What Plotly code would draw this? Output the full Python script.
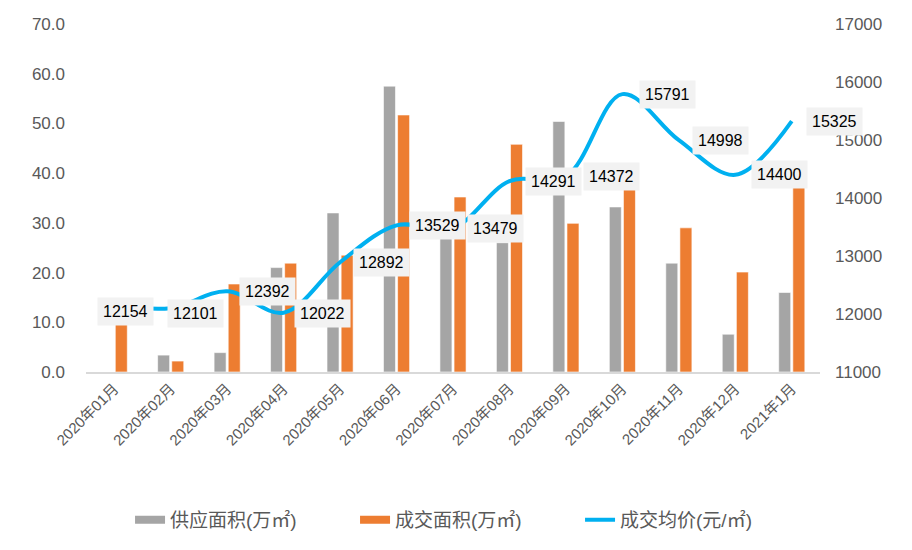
import plotly.graph_objects as go

months = ["2020年01月", "2020年02月", "2020年03月", "2020年04月", "2020年05月", "2020年06月",
          "2020年07月", "2020年08月", "2020年09月", "2020年10月", "2020年11月", "2020年12月", "2021年1月"]
supply_area = [0, 3.4, 3.9, 21.0, 32.0, 57.5, 27.0, 26.0, 50.4, 33.2, 21.9, 7.6, 16.0]
deal_area = [9.8, 2.2, 17.7, 21.9, 23.5, 51.7, 35.2, 45.8, 29.9, 36.8, 29.0, 20.1, 40.8]
avg_price = [12154, 12101, 12392, 12022, 12892, 13529, 13479, 14291, 14372, 15791, 14998, 14400, 15325]
series_names = ["供应面积(万㎡)", "成交面积(万㎡)", "成交均价(元/㎡)"]

label_xshift = [11, 25, 40, 39, 41, 41, 42, 44, 46, 45, 42, 44, 43]
label_yshift = [-6, -5, 0, -1, 0, 0, 0, 0, 0, 0, 0, 0, 0]

font_family = "Arial, 'Liberation Sans', 'Noto Sans CJK SC', sans-serif"
axis_color = "#595959"
gray, orange, blue = "#A5A5A5", "#ED7D31", "#00B0F0"

fig = go.Figure()
fig.add_trace(go.Bar(x=months, y=supply_area, name=series_names[0], showlegend=False,
                     marker=dict(color=gray, line=dict(color="#FFFFFF", width=0.6))))
fig.add_trace(go.Bar(x=months, y=deal_area, name=series_names[1], showlegend=False,
                     marker=dict(color=orange, line=dict(color="#FFFFFF", width=0.6))))
fig.add_trace(go.Scatter(x=months, y=avg_price, name=series_names[2], yaxis="y2", mode="lines",
                         showlegend=False,
                         line=dict(color=blue, width=4, shape="spline", smoothing=1.0)))

# legend entries (wide rectangle symbols like the original)
for name, color, w in [(series_names[0], gray, 8), (series_names[1], orange, 8), (series_names[2], blue, 4)]:
    fig.add_trace(go.Scatter(x=[None], y=[None], mode="lines", name=name,
                             line=dict(color=color, width=w), hoverinfo="skip"))

for i, (m, v) in enumerate(zip(months, avg_price)):
    fig.add_annotation(x=m, y=v, yref="y2", text=str(v), showarrow=False,
                       xshift=label_xshift[i], yshift=label_yshift[i],
                       bgcolor="#F2F2F2", borderpad=5,
                       font=dict(size=16, color="#000000", family=font_family))

fig.update_layout(
    width=904, height=542,
    margin=dict(l=78, r=92, t=16, b=178, autoexpand=False),
    paper_bgcolor="white", plot_bgcolor="white",
    font=dict(family=font_family, color=axis_color),
    barmode="group", bargap=0.5, bargroupgap=0.15,
    showlegend=True,
    legend=dict(orientation="h", x=0.060, xanchor="left", y=-0.425, yanchor="middle",
                font=dict(size=19, color=axis_color), entrywidth=180, entrywidthmode="pixels",
                traceorder="normal"),
    xaxis=dict(type="category", range=[-0.5, 12.5], tickangle=-45,
               tickfont=dict(size=15, color=axis_color),
               showline=True, linecolor="#D9D9D9", linewidth=2, ticks="", showgrid=False,
               automargin=False),
    yaxis=dict(range=[0, 70], dtick=10, tickformat=".1f", showgrid=False, zeroline=False,
               tickfont=dict(size=17, color=axis_color), ticklabelstandoff=20, automargin=False),
    yaxis2=dict(range=[11000, 17000], dtick=1000, tickformat="d", overlaying="y", side="right",
                showgrid=False, zeroline=False, tickfont=dict(size=17, color=axis_color),
                ticklabelstandoff=14, automargin=False),
)

fig.write_html("out.html")
